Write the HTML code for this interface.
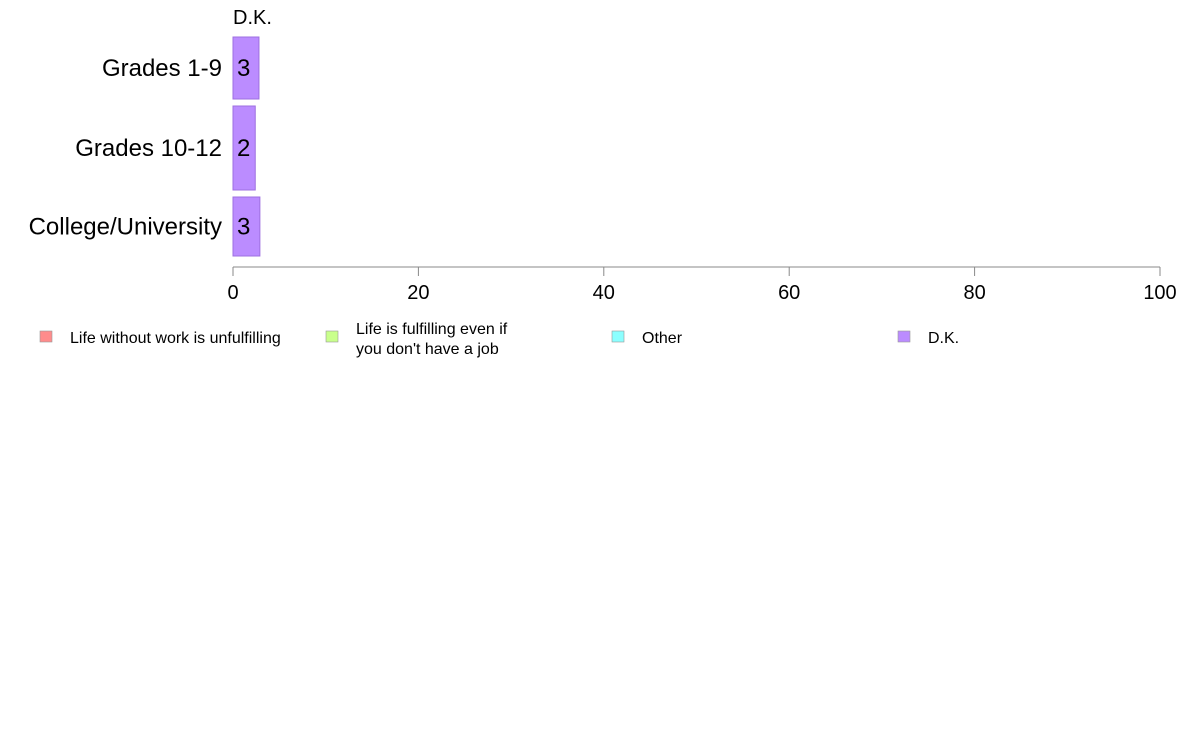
<!DOCTYPE html>
<html><head><meta charset="utf-8"><style>
body{margin:0;background:#fff;font-family:"Liberation Sans",sans-serif;}
svg text{font-family:"Liberation Sans",sans-serif;}
</style></head><body>
<svg id="chart" width="1188" height="736">
<text x="233" y="24" font-size="20">D.K.</text>
<g id="bars"></g>
<g id="axis"></g>
<g id="legend"></g>
</svg>
<script>
const categories=["Grades 1-9","Grades 10-12","College/University"];
const dkValues=[2.8,2.4,2.9];
const dkLabels=["3","2","3"];
const ticks=[0,20,40,60,80,100];
const legendLabels=[["Life without work is unfulfilling"],["Life is fulfilling even if","you don't have a job"],["Other"],["D.K."]];
const legendColors=["#ff8c8c","#c9ff8c","#8cffff","#bb8cff"];
const bandTop=[37,106,197], bandH=[62,84,59];
const x0=233,x1=1160;
const xs=v=>x0+(x1-x0)*v/100;
const NS="http://www.w3.org/2000/svg";
function mk(t,a,p){const e=document.createElementNS(NS,t);for(const k in a)e.setAttribute(k,a[k]);p.appendChild(e);return e;}
const bars=document.getElementById('bars');
categories.forEach((c,i)=>{
 const y=bandTop[i],h=bandH[i];
 const r=mk('rect',{x:x0,y:y,width:xs(dkValues[i])-x0,height:h,fill:'#bb8cff',stroke:'#9e6fe0','stroke-width':1},bars);
 
 
 const t=mk('text',{x:x0+4,y:y+h/2+8,'font-size':24},bars);t.textContent=dkLabels[i];
 
 
 const l=mk('text',{x:222,y:y+h/2+8,'font-size':24,'text-anchor':'end'},bars);l.textContent=c;
 
 
});
const ax=document.getElementById('axis');
const al=mk('line',{x1:x0,x2:x1,y1:267,y2:267,stroke:'#888'},ax);


ticks.forEach(v=>{
 mk('line',{x1:xs(v),x2:xs(v),y1:267,y2:276,stroke:'#888'},ax);
 const t=mk('text',{x:xs(v),y:299,'font-size':20,'text-anchor':'middle'},ax);t.textContent=v;
 
 
});
const lg=document.getElementById('legend');
const lx=[40,326,612,898];
legendLabels.forEach((lines,i)=>{
 const g=mk('g',{},lg);
 
 
 mk('rect',{x:lx[i],y:331,width:12,height:11,fill:legendColors[i],stroke:'#999','stroke-width':0.6},g);
 lines.forEach((s,j)=>{const t=mk('text',{x:lx[i]+30,y:(lines.length>1?334:343)+j*20,'font-size':16},g);t.textContent=s;});
});
</script>
</body></html>
